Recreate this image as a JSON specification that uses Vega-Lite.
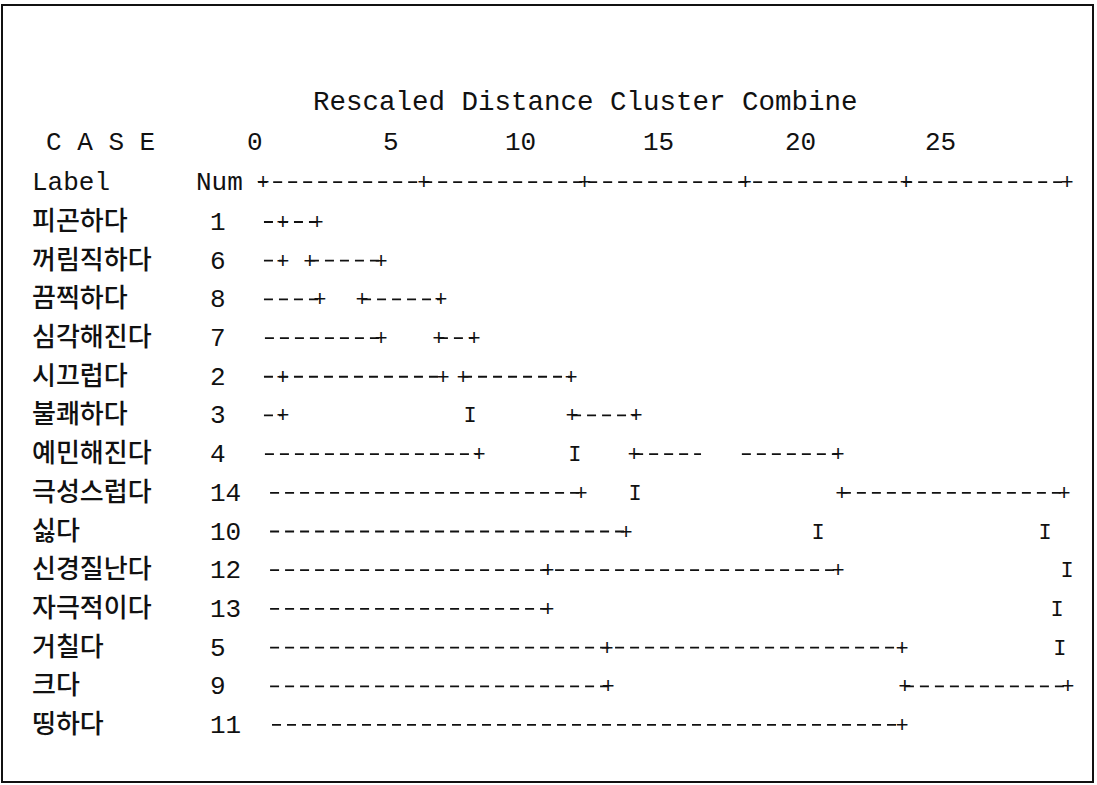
{
  "$schema": "https://vega.github.io/schema/vega-lite/v6.json",
  "width": 1097,
  "height": 785,
  "autosize": {"type": "fit", "contains": "padding"},
  "padding": {"left": 2, "top": 5, "right": 4, "bottom": 3},
  "background": "white",
  "config": {"view": {"stroke": "#111", "strokeWidth": 2}},
  "datasets": {
    "cases": [
      {"row": 1, "label": "피곤하다", "num": "1"},
      {"row": 2, "label": "꺼림직하다", "num": "6"},
      {"row": 3, "label": "끔찍하다", "num": "8"},
      {"row": 4, "label": "심각해진다", "num": "7"},
      {"row": 5, "label": "시끄럽다", "num": "2"},
      {"row": 6, "label": "불쾌하다", "num": "3"},
      {"row": 7, "label": "예민해진다", "num": "4"},
      {"row": 8, "label": "극성스럽다", "num": "14"},
      {"row": 9, "label": "싫다", "num": "10"},
      {"row": 10, "label": "신경질난다", "num": "12"},
      {"row": 11, "label": "자극적이다", "num": "13"},
      {"row": 12, "label": "거칠다", "num": "5"},
      {"row": 13, "label": "크다", "num": "9"},
      {"row": 14, "label": "띵하다", "num": "11"}
    ],
    "title": [
      {"row": -2.1, "x": 1.555, "t": "Rescaled Distance Cluster Combine"}
    ],
    "header": [
      {"row": -1.07, "x": -6.748, "t": "C A S E"},
      {"row": -1.07, "x": -0.498, "t": "0"},
      {"row": -1.07, "x": 3.731, "t": "5"},
      {"row": -1.07, "x": 7.525, "t": "10"},
      {"row": -1.07, "x": 11.816, "t": "15"},
      {"row": -1.07, "x": 16.231, "t": "20"},
      {"row": -1.07, "x": 20.585, "t": "25"},
      {"row": -0.03, "x": -7.183, "t": "Label"},
      {"row": -0.03, "x": -2.083, "t": "Num"}
    ],
    "hseg": [
      {"row": -0.03, "from": -0.15, "to": 25},
      {"row": 1, "from": 0.03, "to": 1.68},
      {"row": 2, "from": 0.03, "to": 0.62},
      {"row": 2, "from": 1.46, "to": 3.67},
      {"row": 3, "from": 0.03, "to": 1.77},
      {"row": 3, "from": 3.08, "to": 5.53},
      {"row": 4, "from": 0.06, "to": 3.67},
      {"row": 4, "from": 5.47, "to": 6.56},
      {"row": 5, "from": 0.03, "to": 5.6},
      {"row": 5, "from": 6.22, "to": 9.58},
      {"row": 6, "from": 0.03, "to": 0.62},
      {"row": 6, "from": 9.61, "to": 11.6},
      {"row": 7, "from": 0.06, "to": 6.72},
      {"row": 7, "from": 11.54, "to": 13.62},
      {"row": 7, "from": 14.89, "to": 17.88},
      {"row": 8, "from": 0.22, "to": 9.89},
      {"row": 8, "from": 18.0, "to": 24.91},
      {"row": 9, "from": 0.22, "to": 11.29},
      {"row": 10, "from": 0.22, "to": 17.88},
      {"row": 11, "from": 0.22, "to": 8.86},
      {"row": 12, "from": 0.22, "to": 19.87},
      {"row": 13, "from": 0.22, "to": 10.73},
      {"row": 13, "from": 19.96, "to": 25.03},
      {"row": 14, "from": 0.28, "to": 19.87}
    ],
    "glyph": [
      {"row": -0.03, "at": 0, "g": "+"},
      {"row": -0.03, "at": 5, "g": "+"},
      {"row": -0.03, "at": 10, "g": "+"},
      {"row": -0.03, "at": 15, "g": "+"},
      {"row": -0.03, "at": 20, "g": "+"},
      {"row": -0.03, "at": 25, "g": "+"},
      {"row": 1, "at": 0.62, "g": "+"},
      {"row": 1, "at": 1.68, "g": "+"},
      {"row": 2, "at": 0.62, "g": "+"},
      {"row": 2, "at": 1.46, "g": "+"},
      {"row": 2, "at": 3.67, "g": "+"},
      {"row": 3, "at": 1.77, "g": "+"},
      {"row": 3, "at": 3.08, "g": "+"},
      {"row": 3, "at": 5.53, "g": "+"},
      {"row": 4, "at": 3.67, "g": "+"},
      {"row": 4, "at": 5.47, "g": "+"},
      {"row": 4, "at": 6.56, "g": "+"},
      {"row": 5, "at": 0.62, "g": "+"},
      {"row": 5, "at": 5.6, "g": "+"},
      {"row": 5, "at": 6.22, "g": "+"},
      {"row": 5, "at": 9.58, "g": "+"},
      {"row": 6, "at": 0.62, "g": "+"},
      {"row": 6, "at": 6.44, "g": "I"},
      {"row": 6, "at": 9.61, "g": "+"},
      {"row": 6, "at": 11.6, "g": "+"},
      {"row": 7, "at": 6.72, "g": "+"},
      {"row": 7, "at": 9.7, "g": "I"},
      {"row": 7, "at": 11.54, "g": "+"},
      {"row": 7, "at": 17.88, "g": "+"},
      {"row": 8, "at": 9.89, "g": "+"},
      {"row": 8, "at": 11.57, "g": "I"},
      {"row": 8, "at": 18.0, "g": "+"},
      {"row": 8, "at": 24.91, "g": "+"},
      {"row": 9, "at": 11.29, "g": "+"},
      {"row": 9, "at": 17.26, "g": "I"},
      {"row": 9, "at": 24.32, "g": "I"},
      {"row": 10, "at": 8.86, "g": "+"},
      {"row": 10, "at": 17.88, "g": "+"},
      {"row": 10, "at": 25.0, "g": "I"},
      {"row": 11, "at": 8.86, "g": "+"},
      {"row": 11, "at": 24.69, "g": "I"},
      {"row": 12, "at": 10.7, "g": "+"},
      {"row": 12, "at": 19.87, "g": "+"},
      {"row": 12, "at": 24.78, "g": "I"},
      {"row": 13, "at": 10.73, "g": "+"},
      {"row": 13, "at": 19.96, "g": "+"},
      {"row": 13, "at": 25.03, "g": "+"},
      {"row": 14, "at": 19.87, "g": "+"}
    ]
  },
  "layer": [
    {
      "data": {"name": "hseg"},
      "mark": {"type": "rule", "strokeDash": [9, 6], "strokeWidth": 1.8, "color": "#111"},
      "encoding": {
        "x": {"field": "from", "type": "quantitative", "axis": null, "scale": {"domain": [-8.1157, 25.8084], "nice": false, "zero": false}},
        "x2": {"field": "to"},
        "y": {"field": "row", "type": "quantitative", "axis": null, "scale": {"domain": [-4.6087, 15.474], "nice": false, "zero": false, "reverse": true}}
      }
    },
    {
      "data": {"name": "glyph"},
      "mark": {"type": "text", "font": "Liberation Mono", "fontSize": 22, "align": "center", "baseline": "middle", "color": "#111"},
      "encoding": {
        "x": {"field": "at", "type": "quantitative", "axis": null, "scale": {"domain": [-8.1157, 25.8084], "nice": false, "zero": false}},
        "y": {"field": "row", "type": "quantitative", "axis": null, "scale": {"domain": [-4.6087, 15.474], "nice": false, "zero": false, "reverse": true}},
        "text": {"field": "g"}
      }
    },
    {
      "data": {"name": "cases"},
      "mark": {"type": "text", "font": "Noto Sans CJK KR", "fontSize": 26, "fontWeight": 500, "align": "left", "baseline": "middle", "color": "#111"},
      "encoding": {
        "x": {"datum": -7.183, "type": "quantitative", "axis": null, "scale": {"domain": [-8.1157, 25.8084], "nice": false, "zero": false}},
        "y": {"field": "row", "type": "quantitative", "axis": null, "scale": {"domain": [-4.6087, 15.474], "nice": false, "zero": false, "reverse": true}},
        "text": {"field": "label"}
      }
    },
    {
      "data": {"name": "cases"},
      "mark": {"type": "text", "font": "Liberation Mono", "fontSize": 26, "align": "left", "baseline": "middle", "color": "#111"},
      "encoding": {
        "x": {"datum": -1.648, "type": "quantitative", "axis": null, "scale": {"domain": [-8.1157, 25.8084], "nice": false, "zero": false}},
        "y": {"field": "row", "type": "quantitative", "axis": null, "scale": {"domain": [-4.6087, 15.474], "nice": false, "zero": false, "reverse": true}},
        "text": {"field": "num"}
      }
    },
    {
      "data": {"name": "header"},
      "mark": {"type": "text", "font": "Liberation Mono", "fontSize": 26, "align": "left", "baseline": "middle", "color": "#111"},
      "encoding": {
        "x": {"field": "x", "type": "quantitative", "axis": null, "scale": {"domain": [-8.1157, 25.8084], "nice": false, "zero": false}},
        "y": {"field": "row", "type": "quantitative", "axis": null, "scale": {"domain": [-4.6087, 15.474], "nice": false, "zero": false, "reverse": true}},
        "text": {"field": "t"}
      }
    },
    {
      "data": {"name": "title"},
      "mark": {"type": "text", "font": "Liberation Mono", "fontSize": 27.5, "align": "left", "baseline": "middle", "color": "#111"},
      "encoding": {
        "x": {"field": "x", "type": "quantitative", "axis": null, "scale": {"domain": [-8.1157, 25.8084], "nice": false, "zero": false}},
        "y": {"field": "row", "type": "quantitative", "axis": null, "scale": {"domain": [-4.6087, 15.474], "nice": false, "zero": false, "reverse": true}},
        "text": {"field": "t"}
      }
    }
  ]
}
